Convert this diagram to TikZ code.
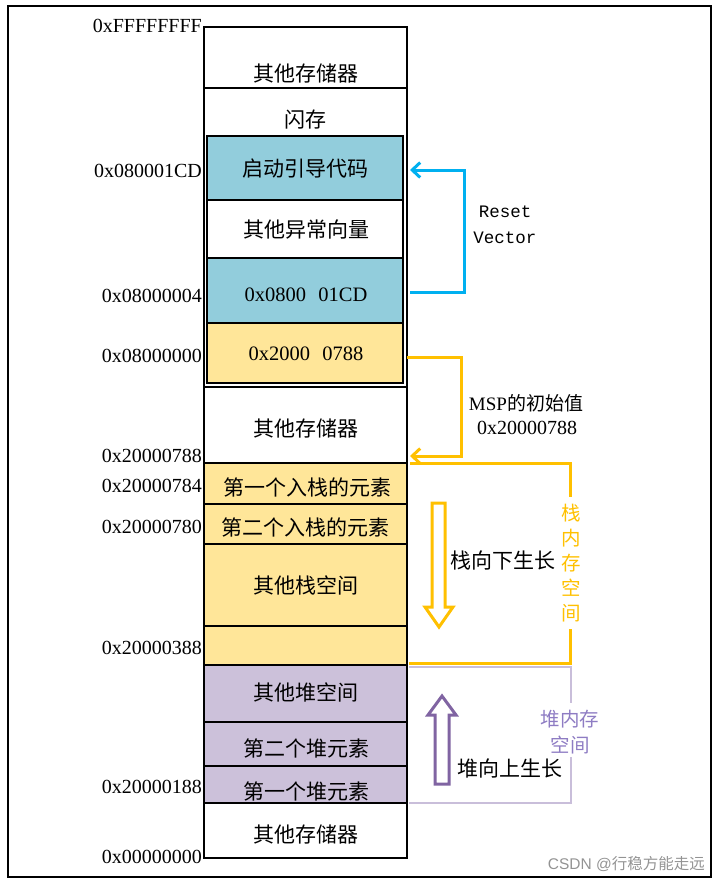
\documentclass[tikz,border=0pt]{standalone}
\usepackage{fontspec}
\setmainfont{Liberation Serif}
\newfontfamily\cjk{Noto Sans CJK SC}
\newfontfamily\monofnt{Liberation Mono}
\newfontfamily\wmfont{Liberation Sans}
\usetikzlibrary{arrows.meta}
\definecolor{tealc}{HTML}{92CDDC}
\definecolor{yelc}{HTML}{FFE699}
\definecolor{purc}{HTML}{CCC1DA}
\definecolor{bluec}{HTML}{00B0F0}
\definecolor{orc}{HTML}{FFC000}
\definecolor{dpur}{HTML}{8064A2}
\definecolor{lpur}{HTML}{C9BEDA}
\definecolor{tpur}{HTML}{8E7CC3}
\begin{document}
\begin{tikzpicture}[x=1pt,y=-1pt,
  cell/.style={draw=black,line width=1.9pt,inner sep=0pt,outer sep=0pt,minimum width=203pt},
  icell/.style={draw=black,line width=1.9pt,inner sep=0pt,outer sep=0pt,minimum width=196pt},
  cn/.style={font=\cjk\fontsize{21}{24}\selectfont,inner sep=0pt},
  addr/.style={font=\fontsize{20}{24}\selectfont,anchor=east,inner sep=0pt},
  conn/.style={line width=3pt,-{Straight Barb[length=8pt,width=15pt,line width=3pt]}},
]
\useasboundingbox (0,0) rectangle (719,884);
\draw[line width=1.5pt] (8,6) rectangle (711,877);

% main column cells
\node[cell,minimum height=61pt] (oth1) at (305.5,57.5) {};
\node[cell,minimum height=299pt] (flash) at (305.5,237.5) {};
\node[icell,fill=tealc,minimum height=64pt] (boot) at (305,168) {};
\node[icell,fill=white,minimum height=58pt] (exc) at (305,229) {};
\node[icell,fill=tealc,minimum height=65pt] (rv) at (305,290.5) {};
\node[icell,fill=yelc,minimum height=60pt] (msp) at (305,353) {};
\draw[line width=2.2pt] (boot.north west) rectangle (msp.south east);
\node[cell,minimum height=76pt] (oth2) at (305.5,425) {};
\node[cell,fill=yelc,minimum height=41pt] (s1) at (305.5,483.5) {};
\node[cell,fill=yelc,minimum height=40pt] (s2) at (305.5,524) {};
\node[cell,fill=yelc,minimum height=82pt] (s3) at (305.5,585) {};
\node[cell,fill=yelc,minimum height=39pt] (s4) at (305.5,645.5) {};
\node[cell,fill=purc,minimum height=57pt] (h3) at (305.5,693.5) {};
\node[cell,fill=purc,minimum height=44pt] (h2) at (305.5,744) {};
\node[cell,fill=purc,minimum height=37pt] (h1) at (305.5,784.5) {};
\node[cell,minimum height=55pt] (oth3) at (305.5,830.5) {};

% texts in cells
\node[cn] (t1) at (306,73) {其他存储器};
\node[cn] (t2) at (305,120) {闪存};
\node[cn] (t3) at (305,169) {启动引导代码};
\node[cn] (t4) at (306,230) {其他异常向量};
\node[font=\fontsize{20.5}{24}\selectfont,inner sep=0pt] (t5) at (306,295) {0x0800\hspace{0.6em}01CD};
\node[font=\fontsize{20.5}{24}\selectfont,inner sep=0pt] (t6) at (306,354) {0x2000\hspace{0.6em}0788};
\node[cn] (t7) at (306,428) {其他存储器};
\node[cn] (t8) at (307,487) {第一个入栈的元素};
\node[cn] (t9) at (305,527) {第二个入栈的元素};
\node[cn] (t10) at (306,585) {其他栈空间};
\node[cn] (t11) at (306,692) {其他堆空间};
\node[cn] (t12) at (306,748) {第二个堆元素};
\node[cn] (t13) at (306,791) {第一个堆元素};
\node[cn] (t14) at (306,834) {其他存储器};

% addresses
\node[addr] (a1) at (202,26) {0xFFFFFFFF};
\node[addr] (a2) at (202,171) {0x080001CD};
\node[addr] (a3) at (202,296) {0x08000004};
\node[addr] (a4) at (202,356) {0x08000000};
\node[addr] (a5) at (202,456) {0x20000788};
\node[addr] (a6) at (202,486) {0x20000784};
\node[addr] (a7) at (202,527) {0x20000780};
\node[addr] (a8) at (202,648) {0x20000388};
\node[addr] (a9) at (202,787) {0x20000188};
\node[addr] (a10) at (202,857) {0x00000000};

% reset vector arrow
\draw[conn,bluec] ([xshift=7pt,yshift=-1.5pt]rv.east) -- ++(54,0) |- ([xshift=7pt,yshift=-2pt]boot.east);
\node[font=\monofnt\fontsize{17.5}{20}\selectfont,inner sep=0pt] (rs) at (505,212) {Reset};
\node[font=\monofnt\fontsize{17.5}{20}\selectfont,inner sep=0pt] (vc) at (505,238) {Vector};

% MSP arrow
\coordinate (mspend) at ([xshift=3pt,yshift=7pt]oth2.south east);
\draw[conn,orc] ([xshift=4pt,yshift=-4pt]msp.east) -- ++(54,0) |- (mspend);
\node[inner sep=0pt] (mspt) at (526,403) {\fontsize{19}{22}\selectfont MSP{\cjk 的初始值}};
\node[font=\fontsize{20}{22}\selectfont,inner sep=0pt] (mspv) at (527,428) {0x20000788};

% stack bracket
\coordinate (sa) at ([xshift=3pt]s1.north east);
\coordinate (sb) at (570,497);
\coordinate (sc) at (570,629);
\coordinate (sd) at ([xshift=2pt,yshift=2pt]s4.south east);
\draw[orc,line width=3pt] (sa) -| (sb);
\draw[orc,line width=3pt] (sc) |- (sd);
\node[font=\cjk\fontsize{19.5}{25}\selectfont,text=orc,align=center,inner sep=0pt] (stk) at (571,563) {栈\\内\\存\\空\\间};

% heap bracket
\coordinate (ha) at ([xshift=2pt,yshift=-2pt]h3.north east);
\coordinate (hb) at (571,703);
\coordinate (hc) at (571,757);
\coordinate (hd) at ([xshift=2pt]h1.south east);
\draw[lpur,line width=2.8pt] (ha) -| (hb);
\draw[lpur,line width=2.8pt] (hc) |- (hd);
\node[font=\cjk\fontsize{19.5}{26}\selectfont,text=tpur,align=center,inner sep=0pt] (hp) at (570,732) {堆内存\\空间};

% block arrows
\draw[orc,line width=3pt,fill=white,line join=miter] (432,503) -- (445,503) -- (445,607) -- (453,607) -- (439,627) -- (425,607) -- (432,607) -- cycle;
\draw[dpur,line width=3pt,fill=white,line join=miter] (435,784) -- (449,784) -- (449,715) -- (456,715) -- (442,696) -- (428,715) -- (435,715) -- cycle;
\node[cn] (down) at (503,560) {栈向下生长};
\node[cn] (up) at (510,768) {堆向上生长};

% watermark
\node[font=\wmfont\fontsize{15.5}{18}\selectfont,text=gray!85,anchor=east,inner sep=0pt] (wm) at (705,864) {CSDN @{\cjk 行稳方能走远}};
\end{tikzpicture}
\end{document}
